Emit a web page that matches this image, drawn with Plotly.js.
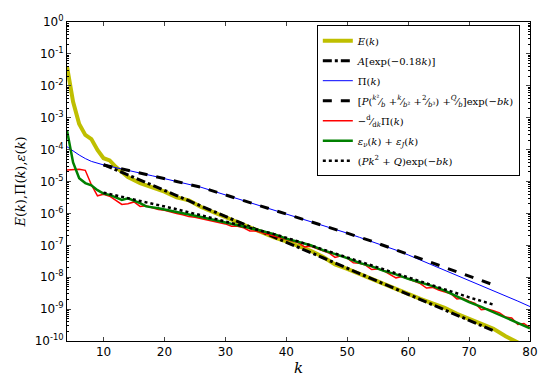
<!DOCTYPE html>
<html>
<head>
<meta charset="utf-8">
<script src="https://cdn.plot.ly/plotly-3.0.1.min.js"></script>
<style>html,body{margin:0;padding:0;background:#fff;}#chart{width:550px;height:385px;}</style>
</head>
<body>
<div id="chart"></div>
<script>
// Energy spectrum E(k)
const kE = [4,5,6,7,8,9,10,11,12,13,14,16,18,20,22,24,26,28,30,32,34,36,38,40,42,44,46,48,50,52,54,56,58,60,62,64,66,68,70,72,74,76,78,80];
const E = [3.98e-2,3.16e-3,6.31e-4,2.88e-4,2.14e-4,9.77e-5,5.37e-5,4.57e-5,2.88e-5,2.00e-5,1.38e-5,8.91e-6,6.61e-6,4.79e-6,3.16e-6,2.57e-6,1.58e-6,1.10e-6,7.59e-7,5.25e-7,3.72e-7,2.40e-7,1.78e-7,1.32e-7,9.77e-8,6.76e-8,4.37e-8,2.51e-8,1.82e-8,1.26e-8,9.12e-9,6.46e-9,4.27e-9,2.95e-9,2.09e-9,1.51e-9,1.10e-9,7.08e-10,5.01e-10,3.63e-10,2.40e-10,1.41e-10,8.91e-11,5.01e-11];

// Fit A[exp(-0.18k)]
const kFit = [10,14,18,22,26,30,34,38,42,46,50,54,58,62,66,70,74];
const Afit = [3.39e-5,1.58e-5,7.59e-6,3.63e-6,1.70e-6,8.13e-7,3.80e-7,1.82e-7,8.51e-8,4.07e-8,1.91e-8,8.91e-9,4.27e-9,2.00e-9,9.55e-10,4.47e-10,2.09e-10];

// Flux Pi(k)
const kPi = [4,5,6,7,8,10,12,14,16,18,20,22,24,26,28,30,32,34,36,38,40,42,44,46,48,50,52,54,56,58,60,62,64,66,68,70,72,74,76,78,80];
const Pi = [1.23e-4,8.91e-5,6.76e-5,5.25e-5,4.27e-5,3.31e-5,2.75e-5,2.29e-5,1.86e-5,1.51e-5,1.23e-5,1.00e-5,8.51e-6,6.61e-6,5.01e-6,3.80e-6,2.88e-6,2.19e-6,1.66e-6,1.26e-6,9.55e-7,7.24e-7,5.75e-7,4.37e-7,3.24e-7,2.40e-7,1.78e-7,1.32e-7,9.55e-8,7.08e-8,5.01e-8,3.47e-8,2.40e-8,1.66e-8,1.15e-8,7.94e-9,5.50e-9,3.80e-9,2.57e-9,1.78e-9,1.20e-9];

// Fit [P(k^2/b + k/b^2 + 2/b^3) + Q/b] exp(-bk)
const PiFit = [3.31e-5,2.29e-5,1.51e-5,1.00e-5,6.61e-6,3.80e-6,2.19e-6,1.26e-6,7.24e-7,4.37e-7,2.40e-7,1.35e-7,7.24e-8,3.80e-8,2.00e-8,1.07e-8,5.75e-9];

// -d/dk Pi(k)
const kD = [4,5,6,7,8,9,10,11,12,13,14,15,16,17,18,19,20,21,22,23,24,25,26,27,28,29,30,31,32,33,34,35,36,37,38,39,40,41,42,43,44,45,46,47,48,49,50,51,52,53,54,55,56,57,58,59,60,61,62,63,64,65,66,67,68,69,70,71,72,73,74,75,76,77,78,79,80];
const dPi = [2.29e-5,2.29e-5,2.40e-5,2.24e-5,7.94e-6,3.55e-6,3.98e-6,3.47e-6,2.51e-6,1.91e-6,2.00e-6,2.29e-6,1.66e-6,1.74e-6,1.51e-6,1.32e-6,1.26e-6,1.10e-6,1.00e-6,9.12e-7,7.94e-7,7.59e-7,6.92e-7,6.03e-7,5.75e-7,5.01e-7,4.68e-7,3.98e-7,3.98e-7,3.55e-7,2.82e-7,2.82e-7,2.51e-7,2.19e-7,2.00e-7,1.74e-7,1.51e-7,1.41e-7,1.20e-7,8.91e-8,9.33e-8,7.94e-8,6.76e-8,5.75e-8,4.17e-8,4.68e-8,3.98e-8,2.82e-8,2.75e-8,2.40e-8,1.74e-8,1.82e-8,1.58e-8,1.20e-8,9.55e-9,1.05e-8,8.71e-9,7.59e-9,6.31e-9,4.57e-9,4.79e-9,3.98e-9,3.47e-9,3.02e-9,2.09e-9,2.19e-9,1.78e-9,1.51e-9,9.55e-10,1.00e-9,8.91e-10,7.59e-10,5.62e-10,5.25e-10,3.31e-10,3.55e-10,2.63e-10];

// Dissipation eps_nu + eps_J
const kEps = [4,5,6,7,8,9,10,11,12,13,14,15,16,17,18,19,20,22,24,26,28,30,32,34,36,38,40,42,44,46,48,50,52,54,56,58,60,62,64,66,68,70,72,74,76,78,80];
const eps = [3.98e-4,3.98e-5,1.26e-5,8.91e-6,7.59e-6,5.37e-6,4.17e-6,3.80e-6,3.16e-6,2.63e-6,2.95e-6,2.51e-6,2.09e-6,1.66e-6,1.58e-6,1.45e-6,1.32e-6,1.12e-6,9.12e-7,7.76e-7,6.31e-7,5.25e-7,4.37e-7,3.47e-7,2.82e-7,2.24e-7,1.62e-7,1.26e-7,1.00e-7,7.08e-8,5.37e-8,3.98e-8,2.82e-8,2.19e-8,1.58e-8,1.23e-8,8.91e-9,6.92e-9,5.25e-9,3.80e-9,2.51e-9,1.66e-9,1.17e-9,7.94e-10,5.25e-10,3.63e-10,2.51e-10];

// Fit (Pk^2 + Q) exp(-bk)
const epsFit = [4.47e-6,3.02e-6,2.00e-6,1.35e-6,8.71e-7,5.62e-7,3.55e-7,2.24e-7,1.32e-7,7.41e-8,4.17e-8,2.34e-8,1.29e-8,7.24e-9,4.07e-9,2.34e-9,1.38e-9];

// y tick labels
const yTickVals = [1e-10,1e-9,1e-8,1e-7,1e-6,1e-5,1e-4,1e-3,1e-2,1e-1,1];
const yTickText = ['10<sup>-10</sup>','10<sup>-9</sup>','10<sup>-8</sup>','10<sup>-7</sup>','10<sup>-6</sup>','10<sup>-5</sup>','10<sup>-4</sup>','10<sup>-3</sup>','10<sup>-2</sup>','10<sup>-1</sup>','10<sup>0</sup>'];
const xTickVals = [10,20,30,40,50,60,70,80];
// minor log ticks (2..9 within each decade)
const yMinorVals = [];
for (let p = -10; p < 0; p++) { for (let m = 2; m <= 9; m++) yMinorVals.push(m * Math.pow(10, p)); }

const names = [
  '<i>E</i>(<i>k</i>)',
  '<i>A</i>[exp(−0.18<i>k</i>)]',
  'Π(<i>k</i>)',
  '[<i>P</i>(<sup><i>k</i>²</sup>⁄<sub><i>b</i></sub> +<sup><i>k</i></sup>⁄<sub><i>b</i>²</sub> +<sup>2</sup>⁄<sub><i>b</i>³</sub>) +<sup><i>Q</i></sup>⁄<sub><i>b</i></sub>]exp(−<i>bk</i>)',
  '−<sup>d</sup>⁄<sub>d<i>k</i></sub>Π(<i>k</i>)',
  '<i>ε</i><sub><i>ν</i></sub>(<i>k</i>) + <i>ε</i><sub><i>J</i></sub>(<i>k</i>)',
  '(<i>Pk</i><sup>2</sup> + <i>Q</i>)exp(−<i>bk</i>)'
];

const traces = [
  {x:kE, y:E, name:names[0], legendgroup:'g0', mode:'lines', line:{color:'#bfbf00', width:4}},
  {x:kFit, y:Afit, name:names[1], legendgroup:'g1', mode:'lines', line:{color:'#000', width:3, dash:'dashdot'}},
  {x:kPi, y:Pi, name:names[2], legendgroup:'g2', mode:'lines', line:{color:'#0000ff', width:1}},
  {x:kFit, y:PiFit, name:names[3], legendgroup:'g3', mode:'lines', line:{color:'#000', width:3, dash:'dash'}},
  {x:kD, y:dPi, name:names[4], legendgroup:'g4', mode:'lines', line:{color:'#ff0000', width:1.5}},
  {x:kEps, y:eps, name:names[5], legendgroup:'g5', mode:'lines', line:{color:'#008000', width:2.5}},
  {x:kFit, y:epsFit, name:names[6], legendgroup:'g6', mode:'lines', line:{color:'#000', width:2.5, dash:'dot'}},
  {x:[], y:[], xaxis:'x', yaxis:'y2', showlegend:false, hoverinfo:'skip', mode:'lines'}
];

const layout = {
  width:550, height:385,
  margin:{l:67, r:20, t:22, b:44},
  paper_bgcolor:'#fff', plot_bgcolor:'#fff',
  font:{family:'DejaVu Sans', size:12, color:'#000'},
  showlegend:true,
  legend:{x:0.978, xanchor:'right', y:0.99, yanchor:'top', bgcolor:'#fff', bordercolor:'#000', borderwidth:1,
          font:{family:'DejaVu Serif', size:10}, tracegroupgap:1, itemwidth:30},
  xaxis:{range:[4,80], tickvals:xTickVals, ticks:'inside', ticklen:4, mirror:'ticks',
         showline:true, linecolor:'#000', linewidth:1, showgrid:false, zeroline:false,
         tickfont:{family:'DejaVu Sans', size:12},
         title:{text:'<i>k</i>', font:{family:'DejaVu Serif', size:15}, standoff:4}},
  yaxis:{type:'log', range:[-10,0], tickvals:yTickVals, ticktext:yTickText, ticks:'inside', ticklen:4, mirror:'ticks',
         showline:true, linecolor:'#000', linewidth:1, showgrid:false, zeroline:false,
         tickfont:{family:'DejaVu Sans', size:12},
         title:{text:'<i>E</i>(<i>k</i>),Π(<i>k</i>),<i>ε</i>(<i>k</i>)', font:{family:'DejaVu Serif', size:13}, standoff:6}},
  yaxis2:{type:'log', range:[-10,0], overlaying:'y', side:'left', tickvals:yMinorVals, showticklabels:false,
          ticks:'inside', ticklen:2, tickcolor:'#000', mirror:'ticks', showline:false, showgrid:false, zeroline:false}
};

Plotly.newPlot('chart', traces, layout, {displayModeBar:false, staticPlot:true});
</script>
</body>
</html>
